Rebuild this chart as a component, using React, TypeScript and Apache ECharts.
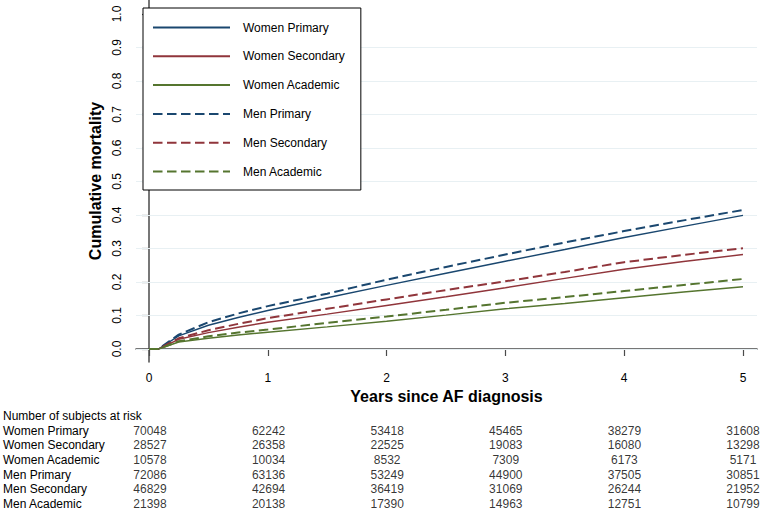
import React, { useEffect, useRef } from "react";
import * as echarts from "echarts";

const years = [0, 0.08, 0.25, 0.5, 0.75, 1, 1.5, 2, 2.5, 3, 3.5, 4, 4.5, 5];
const womenPrimary = [0, 0, 0.039, 0.071, 0.094, 0.115, 0.153, 0.19, 0.226, 0.262, 0.297, 0.333, 0.366, 0.399];
const womenSecondary = [0, 0, 0.029, 0.049, 0.065, 0.08, 0.104, 0.13, 0.156, 0.183, 0.211, 0.238, 0.261, 0.282];
const womenAcademic = [0, 0, 0.021, 0.032, 0.042, 0.05, 0.066, 0.083, 0.101, 0.12, 0.136, 0.153, 0.17, 0.186];
const menPrimary = [0, 0, 0.043, 0.08, 0.106, 0.128, 0.165, 0.207, 0.245, 0.282, 0.318, 0.352, 0.384, 0.415];
const menSecondary = [0, 0, 0.032, 0.056, 0.075, 0.092, 0.12, 0.148, 0.176, 0.202, 0.23, 0.259, 0.281, 0.301];
const menAcademic = [0, 0, 0.023, 0.038, 0.049, 0.058, 0.078, 0.097, 0.117, 0.138, 0.155, 0.173, 0.191, 0.209];

const seriesNames = ["Women Primary", "Women Secondary", "Women Academic", "Men Primary", "Men Secondary", "Men Academic"];
const xTicks = [0, 1, 2, 3, 4, 5];
const yTicks = [0, 0.1, 0.2, 0.3, 0.4, 0.5, 0.6, 0.7, 0.8, 0.9, 1.0];
const gridValues = [0, 0.1, 0.2, 0.3, 0.4, 0.5, 0.6, 0.7, 0.8, 0.9];

const riskHeader = "Number of subjects at risk";
const riskTimes = [0, 1, 2, 3, 4, 5];
const riskWomenPrimary = [70048, 62242, 53418, 45465, 38279, 31608];
const riskWomenSecondary = [28527, 26358, 22525, 19083, 16080, 13298];
const riskWomenAcademic = [10578, 10034, 8532, 7309, 6173, 5171];
const riskMenPrimary = [72086, 63136, 53249, 44900, 37505, 30851];
const riskMenSecondary = [46829, 42694, 36419, 31069, 26244, 21952];
const riskMenAcademic = [21398, 20138, 17390, 14963, 12751, 10799];

const FONT = "'Liberation Sans', Arial, Helvetica, sans-serif";
const NAVY = "#1a476f";
const MAROON = "#90353b";
const GREEN = "#55752f";
const AXIS = "#4a4a4a";

export default function App() {
  const ref = useRef<HTMLDivElement>(null);
  useEffect(() => {
    document.body.style.margin = "0";
    document.body.style.overflow = "hidden";
    const chart = echarts.init(ref.current!, null, { renderer: "svg" });
    const curves = [womenPrimary, womenSecondary, womenAcademic, menPrimary, menSecondary, menAcademic];
    const colors = [NAVY, MAROON, GREEN, NAVY, MAROON, GREEN];
    const risks = [riskWomenPrimary, riskWomenSecondary, riskWomenAcademic, riskMenPrimary, riskMenSecondary, riskMenAcademic];

    const xMin = -0.1094;
    const xMax = 5.118;
    const yMin = -0.0388;
    const yMax = 1.0418;

    const lineSeries: any[] = curves.map((vals, i) => ({
      name: seriesNames[i],
      type: "line",
      xAxisIndex: 0,
      yAxisIndex: 0,
      symbol: "none",
      z: 3,
      data: years.map((t, j) => [t, vals[j]]),
      lineStyle: {
        color: colors[i],
        width: i < 3 ? 1.4 : 2,
        type: i < 3 ? "solid" : [9.5, 4.5],
        cap: "butt",
      },
      itemStyle: { color: colors[i] },
    }));

    const riskData: any[] = [];
    risks.forEach((row, r) => {
      row.forEach((n, c) => riskData.push([riskTimes[c], r + 1, n]));
    });

    chart.setOption({
      animation: false,
      textStyle: { fontFamily: FONT },
      legend: {
        orient: "vertical",
        left: 143,
        top: 8,
        data: seriesNames,
        itemWidth: 77,
        itemHeight: 14,
        itemGap: 16.8,
        padding: [13.5, 16, 12.5, 9],
        borderColor: "#000",
        borderWidth: 1,
        backgroundColor: "#fff",
        itemStyle: { opacity: 0 },
        textStyle: { fontSize: 12, color: "#000", fontFamily: FONT, padding: [0, 0, 0, 8] },
        selectedMode: false,
        z: 10,
      },
      grid: [
        { left: 136, right: 5, top: 0, bottom: 148, containLabel: false },
        { left: 136, right: 5, top: 416, height: 90, containLabel: false },
      ],
      xAxis: [
        {
          type: "value",
          gridIndex: 0,
          min: xMin,
          max: xMax,
          name: "Years since AF diagnosis",
          nameLocation: "middle",
          nameGap: 17,
          nameTextStyle: { fontSize: 16, fontWeight: "bold", color: "#000", fontFamily: FONT },
          axisLine: { show: true, lineStyle: { color: AXIS, width: 1.5 } },
          axisTick: { show: true, length: 7, lineStyle: { color: AXIS, width: 1.2 }, customValues: xTicks },
          axisLabel: { fontSize: 12, color: "#000", margin: 10, customValues: xTicks, formatter: (v: number) => String(Math.round(v)) },
          splitLine: { show: false },
        },
        { type: "value", gridIndex: 1, min: xMin, max: xMax, show: false },
      ],
      yAxis: [
        {
          type: "value",
          gridIndex: 0,
          min: yMin,
          max: yMax,
          name: "Cumulative mortality",
          nameLocation: "middle",
          nameGap: 22,
          nameTextStyle: { fontSize: 16, fontWeight: "bold", color: "#000", fontFamily: FONT },
          axisLine: { show: true, lineStyle: { color: AXIS, width: 1.5 } },
          axisTick: { show: true, length: 7, lineStyle: { color: AXIS, width: 1.2 }, customValues: yTicks },
          axisLabel: { fontSize: 12, color: "#000", margin: 13, rotate: 90, customValues: yTicks, formatter: (v: number) => v.toFixed(1) },
          splitLine: { show: false },
        },
        {
          type: "category",
          gridIndex: 1,
          inverse: true,
          boundaryGap: false,
          data: [riskHeader, ...seriesNames],
          axisLine: { show: false },
          axisTick: { show: false },
          axisLabel: { align: "left", margin: 134, fontSize: 12, color: "#000", fontFamily: FONT, interval: 0 },
          splitLine: { show: false },
        },
      ],
      series: [
        {
          name: "gridlines",
          type: "line",
          xAxisIndex: 0,
          yAxisIndex: 0,
          data: [],
          z: 1,
          silent: true,
          markLine: {
            silent: true,
            symbol: "none",
            z: 1,
            label: { show: false },
            lineStyle: { color: "#e8f0f3", width: 1.2, type: "solid" },
            data: gridValues.map((v) => ({ yAxis: v })),
          },
        },
        ...lineSeries,
        {
          name: "risk",
          type: "scatter",
          xAxisIndex: 1,
          yAxisIndex: 1,
          symbolSize: 1,
          itemStyle: { color: "transparent" },
          silent: true,
          data: riskData,
          label: {
            show: true,
            position: "inside",
            formatter: (p: any) => String(p.value[2]),
            fontSize: 12,
            color: "#000",
            fontFamily: FONT,
          },
        },
      ],
    });
    return () => chart.dispose();
  }, []);
  return <div ref={ref} style={{ width: 762, height: 510 }} />;
}
